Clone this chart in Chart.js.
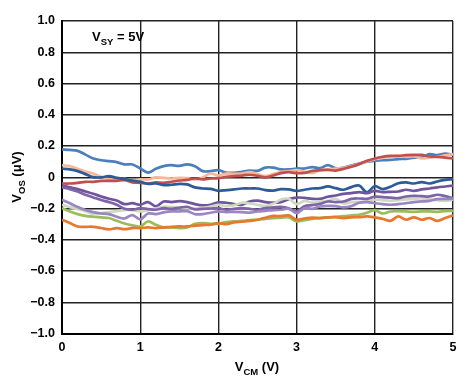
<!DOCTYPE html>
<html>
<head>
<meta charset="utf-8">
<script src="https://cdn.jsdelivr.net/npm/chart.js@4/dist/chart.umd.min.js"></script>
<style>
  html, body { margin: 0; padding: 0; background: #fff; }
  #wrap { width: 473px; height: 378px; }
</style>
</head>
<body>
<div id="wrap"><canvas id="c" width="473" height="378"></canvas></div>
<script>
// Common-mode voltage samples (V)
const vcm = [0.0,0.1,0.2,0.3,0.4,0.5,0.6,0.7,0.8,0.9,1.0,1.1,1.2,1.3,1.4,1.5,1.6,1.7,1.8,1.9,2.0,2.1,2.2,2.3,2.4,2.5,2.6,2.7,2.8,2.9,3.0,3.1,3.2,3.3,3.4,3.5,3.6,3.7,3.8,3.9,4.0,4.1,4.2,4.3,4.4,4.5,4.6,4.7,4.8,4.9,5.0];

// Offset voltage series (µV)
const blue = [0.178,0.175,0.169,0.145,0.120,0.109,0.103,0.097,0.082,0.082,0.056,0.030,0.054,0.071,0.077,0.073,0.082,0.071,0.039,0.039,0.045,0.030,0.028,0.035,0.043,0.041,0.062,0.062,0.050,0.050,0.056,0.056,0.065,0.058,0.077,0.058,0.062,0.075,0.088,0.099,0.105,0.109,0.111,0.116,0.118,0.126,0.126,0.148,0.141,0.152,0.143];
const salmon = [0.077,0.071,0.054,0.037,0.024,0.003,-0.012,-0.017,-0.010,-0.021,-0.014,-0.014,-0.001,-0.004,-0.008,-0.004,-0.006,-0.014,-0.001,0.024,0.011,0.024,0.022,0.024,0.033,0.020,0.007,0.020,0.033,0.039,0.045,0.037,0.026,0.045,0.050,0.056,0.060,0.071,0.084,0.101,0.116,0.124,0.133,0.135,0.131,0.133,0.120,0.126,0.131,0.141,0.148];
const red = [-0.040,-0.040,-0.036,-0.029,-0.029,-0.023,-0.023,-0.023,-0.019,-0.033,-0.036,-0.040,-0.033,-0.036,-0.029,-0.021,-0.017,-0.008,-0.014,-0.008,-0.006,0.003,0.007,0.011,0.016,0.009,-0.001,0.011,0.026,0.033,0.026,0.028,0.041,0.045,0.047,0.043,0.054,0.067,0.084,0.105,0.120,0.131,0.137,0.137,0.141,0.143,0.143,0.133,0.131,0.126,0.120];
const darkBlue = [0.056,0.050,0.039,0.020,0.001,-0.001,0.007,-0.004,-0.012,-0.021,-0.029,-0.042,-0.040,-0.050,-0.048,-0.042,-0.046,-0.065,-0.072,-0.074,-0.087,-0.082,-0.078,-0.072,-0.072,-0.072,-0.082,-0.085,-0.076,-0.078,-0.087,-0.080,-0.072,-0.070,-0.059,-0.070,-0.080,-0.063,-0.053,-0.097,-0.057,-0.076,-0.061,-0.038,-0.033,-0.040,-0.031,-0.040,-0.027,-0.017,-0.012];
const purple1 = [-0.053,-0.065,-0.076,-0.091,-0.106,-0.123,-0.138,-0.149,-0.172,-0.166,-0.176,-0.159,-0.187,-0.155,-0.159,-0.153,-0.159,-0.172,-0.180,-0.176,-0.161,-0.163,-0.172,-0.176,-0.155,-0.150,-0.159,-0.163,-0.159,-0.140,-0.130,-0.132,-0.138,-0.138,-0.125,-0.117,-0.106,-0.102,-0.095,-0.102,-0.087,-0.095,-0.093,-0.091,-0.080,-0.087,-0.078,-0.072,-0.065,-0.059,-0.053];
const purple2 = [-0.065,-0.076,-0.091,-0.112,-0.129,-0.146,-0.159,-0.176,-0.202,-0.208,-0.198,-0.204,-0.208,-0.198,-0.202,-0.195,-0.189,-0.206,-0.202,-0.200,-0.198,-0.208,-0.202,-0.198,-0.202,-0.208,-0.198,-0.193,-0.189,-0.198,-0.219,-0.185,-0.178,-0.170,-0.155,-0.159,-0.155,-0.138,-0.136,-0.138,-0.125,-0.127,-0.131,-0.134,-0.123,-0.119,-0.121,-0.123,-0.112,-0.121,-0.134];
const lavender = [-0.144,-0.166,-0.191,-0.210,-0.223,-0.232,-0.236,-0.253,-0.264,-0.242,-0.270,-0.232,-0.236,-0.225,-0.219,-0.219,-0.217,-0.236,-0.236,-0.227,-0.219,-0.223,-0.221,-0.223,-0.227,-0.219,-0.215,-0.210,-0.208,-0.202,-0.230,-0.198,-0.202,-0.187,-0.183,-0.185,-0.193,-0.185,-0.163,-0.159,-0.166,-0.172,-0.176,-0.172,-0.166,-0.159,-0.155,-0.151,-0.140,-0.138,-0.138];
const sage = [-0.176,-0.191,-0.204,-0.217,-0.236,-0.230,-0.223,-0.217,-0.210,-0.210,-0.219,-0.210,-0.200,-0.189,-0.191,-0.193,-0.198,-0.200,-0.195,-0.187,-0.176,-0.185,-0.180,-0.163,-0.168,-0.176,-0.185,-0.170,-0.142,-0.138,-0.172,-0.151,-0.163,-0.155,-0.151,-0.138,-0.168,-0.159,-0.157,-0.155,-0.144,-0.146,-0.151,-0.146,-0.142,-0.138,-0.136,-0.142,-0.146,-0.151,-0.144];
const green = [-0.198,-0.219,-0.236,-0.247,-0.253,-0.257,-0.261,-0.279,-0.296,-0.308,-0.315,-0.283,-0.304,-0.321,-0.321,-0.325,-0.321,-0.298,-0.293,-0.298,-0.298,-0.287,-0.283,-0.279,-0.274,-0.272,-0.266,-0.261,-0.259,-0.257,-0.283,-0.274,-0.266,-0.261,-0.257,-0.253,-0.249,-0.244,-0.240,-0.227,-0.210,-0.232,-0.219,-0.217,-0.219,-0.221,-0.219,-0.219,-0.221,-0.217,-0.215];
const orange = [-0.272,-0.293,-0.315,-0.317,-0.317,-0.325,-0.334,-0.325,-0.332,-0.325,-0.325,-0.321,-0.325,-0.321,-0.317,-0.315,-0.315,-0.310,-0.306,-0.304,-0.293,-0.300,-0.289,-0.285,-0.279,-0.272,-0.259,-0.247,-0.249,-0.244,-0.272,-0.264,-0.259,-0.261,-0.257,-0.255,-0.261,-0.257,-0.255,-0.251,-0.257,-0.266,-0.279,-0.251,-0.272,-0.257,-0.272,-0.261,-0.279,-0.261,-0.244];

// Axis ticks
const xTicks = [0, 1, 2, 3, 4, 5];
const yTicks = [-1.0, -0.8, -0.6, -0.4, -0.2, 0, 0.2, 0.4, 0.6, 0.8, 1.0];

const seriesList = [
  { data: orange,   color: '#e8782e' },
  { data: green,    color: '#9cbc5c' },
  { data: lavender, color: '#9a86c2' },
  { data: purple2,  color: '#8064a8' },
  { data: sage,     color: '#cdd9c0' },
  { data: purple1,  color: '#70559e' },
  { data: darkBlue, color: '#2d5b97' },
  { data: red,      color: '#c0504d' },
  { data: salmon,   color: '#f7b896' },
  { data: blue,     color: '#4a7ebd' }
];

const datasets = seriesList.map(s => ({
  data: vcm.map((x, i) => ({ x: x, y: s.data[i] })),
  borderColor: s.color,
  borderWidth: 2.7,
  pointRadius: 0,
  tension: 0.35,
  fill: false
}));

const FONT = '"Liberation Sans", Arial, sans-serif';

function drawSub(ctx, parts, x, y, align) {
  let w = 0;
  parts.forEach(p => {
    ctx.font = p.sub ? 'bold 9.5px ' + FONT : 'bold 13px ' + FONT;
    w += ctx.measureText(p.t).width;
  });
  let cx = align === 'center' ? x - w / 2 : x;
  parts.forEach(p => {
    ctx.font = p.sub ? 'bold 9.5px ' + FONT : 'bold 13px ' + FONT;
    ctx.fillText(p.t, cx, p.sub ? y + 3.5 : y);
    cx += ctx.measureText(p.t).width;
  });
}

const textPlugin = {
  id: 'texts',
  afterDraw(chart) {
    const ctx = chart.ctx;
    ctx.save();
    ctx.fillStyle = '#000';
    ctx.textBaseline = 'alphabetic';
    ctx.textAlign = 'left';
    drawSub(ctx, [{t: 'V'}, {t: 'SY', sub: true}, {t: ' = 5V'}], 92, 41, 'left');
    drawSub(ctx, [{t: 'V'}, {t: 'CM', sub: true}, {t: ' (V)'}], 257, 371, 'center');
    ctx.translate(21, 177);
    ctx.rotate(-Math.PI / 2);
    drawSub(ctx, [{t: 'V'}, {t: 'OS', sub: true}, {t: ' (\u03BCV)'}], 0, 0, 'center');
    ctx.restore();
  }
};

new Chart(document.getElementById('c'), {
  type: 'line',
  data: { datasets },
  options: {
    responsive: false,
    animation: false,
    layout: { padding: { left: 0, right: 20, top: 21, bottom: 0 } },
    plugins: { legend: { display: false }, tooltip: { enabled: false } },
    scales: {
      x: {
        type: 'linear',
        min: 0, max: 5,
        afterBuildTicks: (s) => { s.ticks = xTicks.map(v => ({ value: v })); },
        afterFit: (s) => { s.height = 44.5; },
        grid: { color: '#222', lineWidth: 1.4, drawTicks: false },
        border: { color: '#000', width: 2 },
        ticks: {
          padding: 7,
          color: '#000',
          font: { family: FONT, size: 12.5, weight: 'bold' },
          callback: (v) => String(v)
        }
      },
      y: {
        type: 'linear',
        min: -1, max: 1,
        afterBuildTicks: (s) => { s.ticks = yTicks.map(v => ({ value: v })); },
        afterFit: (s) => { s.width = 62; },
        grid: { color: '#222', lineWidth: 1.4, drawTicks: false },
        border: { color: '#000', width: 2 },
        ticks: {
          padding: 7,
          color: '#000',
          font: { family: FONT, size: 12.5, weight: 'bold' },
          callback: (v) => {
            if (Math.abs(v) < 1e-9) return '0';
            const s = Math.abs(v).toFixed(1);
            return v < 0 ? '\u2212' + s : s;
          }
        }
      }
    }
  },
  plugins: [textPlugin]
});
</script>
</body>
</html>
